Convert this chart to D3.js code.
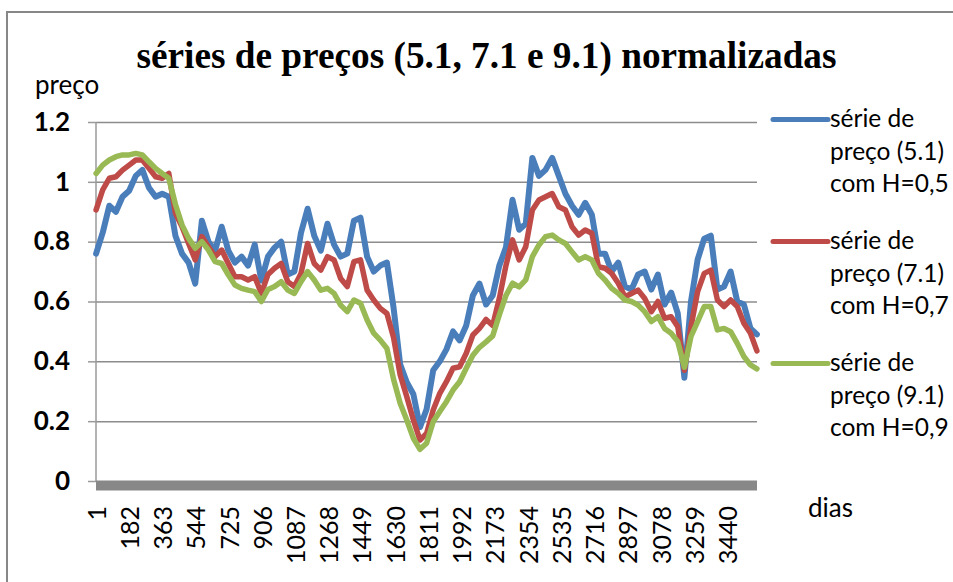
<!DOCTYPE html>
<html>
<head>
<meta charset="utf-8">
<script src="https://cdn.jsdelivr.net/npm/d3@7"></script>
<style>
  html, body { margin: 0; padding: 0; background: #fff; }
  svg { display: block; }
</style>
</head>
<body>
<svg id="chart" width="953" height="582"></svg>
<script>
// ---------- data ----------
const dias = [1,37,73,109,145,181,217,253,289,325,361,397,433,469,505,541,577,613,649,685,
  721,757,793,829,865,901,937,973,1009,1045,1081,1117,1153,1189,1225,1261,1297,1333,1369,1405,
  1441,1477,1513,1549,1585,1621,1657,1693,1729,1765,1801,1837,1873,1909,1945,1981,2017,2053,2089,2125,
  2161,2197,2233,2269,2305,2341,2377,2413,2449,2485,2521,2557,2593,2629,2665,2701,2737,2773,2809,2845,
  2881,2917,2953,2989,3025,3061,3097,3133,3169,3205,3241,3277,3313,3349,3385,3421,3457,3493,3529,3565,3600];

const serie51 = [0.76,0.83,0.92,0.90,0.95,0.97,1.02,1.04,0.98,0.95,0.96,0.95,0.82,0.76,0.73,0.66,0.87,0.80,0.77,0.85,
  0.77,0.73,0.75,0.72,0.79,0.67,0.75,0.78,0.80,0.69,0.70,0.83,0.91,0.82,0.77,0.86,0.79,0.75,0.76,0.87,
  0.88,0.75,0.70,0.72,0.73,0.58,0.39,0.33,0.29,0.18,0.24,0.37,0.40,0.44,0.50,0.47,0.52,0.62,0.66,0.59,
  0.62,0.72,0.78,0.94,0.84,0.86,1.08,1.02,1.04,1.08,1.02,0.96,0.92,0.89,0.93,0.89,0.76,0.76,0.70,0.73,
  0.65,0.64,0.69,0.70,0.64,0.69,0.59,0.63,0.56,0.345,0.60,0.74,0.81,0.82,0.64,0.65,0.70,0.60,0.59,0.51,0.49];

const serie71 = [0.906,0.973,1.012,1.017,1.039,1.056,1.073,1.073,1.045,1.017,1.012,1.028,0.895,0.85,0.794,0.739,0.817,0.783,0.75,0.772,
  0.727,0.683,0.683,0.672,0.683,0.627,0.69,0.711,0.727,0.666,0.65,0.694,0.794,0.727,0.705,0.75,0.739,0.677,0.65,0.733,
  0.739,0.638,0.605,0.577,0.56,0.48,0.355,0.282,0.204,0.137,0.159,0.237,0.293,0.332,0.377,0.382,0.427,0.488,0.51,0.54,
  0.52,0.61,0.72,0.806,0.739,0.783,0.906,0.939,0.95,0.961,0.917,0.906,0.85,0.822,0.839,0.828,0.716,0.711,0.694,0.661,
  0.616,0.627,0.638,0.61,0.566,0.6,0.544,0.549,0.516,0.37,0.516,0.633,0.694,0.705,0.605,0.583,0.605,0.583,0.527,0.494,0.435];

const serie91 = [1.028,1.056,1.073,1.084,1.09,1.09,1.095,1.09,1.067,1.045,1.028,1.012,0.925,0.856,0.811,0.778,0.80,0.772,0.733,0.727,
  0.689,0.655,0.644,0.638,0.633,0.60,0.64,0.65,0.666,0.638,0.627,0.666,0.70,0.672,0.638,0.644,0.627,0.588,0.566,0.605,
  0.594,0.538,0.494,0.471,0.443,0.34,0.26,0.204,0.143,0.106,0.126,0.198,0.232,0.265,0.304,0.332,0.377,0.42,0.447,0.465,
  0.485,0.555,0.62,0.661,0.649,0.672,0.75,0.789,0.817,0.822,0.806,0.794,0.766,0.739,0.75,0.739,0.694,0.672,0.644,0.627,
  0.605,0.60,0.588,0.566,0.533,0.549,0.51,0.494,0.466,0.38,0.483,0.533,0.583,0.583,0.505,0.51,0.499,0.46,0.416,0.388,0.375];

const seriesNomes = [
  ["série de", "preço (5.1)", "com H=0,5"],
  ["série de", "preço (7.1)", "com H=0,7"],
  ["série de", "preço (9.1)", "com H=0,9"]
];
const seriesCores = ["#4a7ebb", "#be4b48", "#98b954"];
const xTicks = [1,182,363,544,725,906,1087,1268,1449,1630,1811,1992,2173,2354,2535,2716,2897,3078,3259,3440];
const yTicks = [0, 0.2, 0.4, 0.6, 0.8, 1, 1.2];
const titulo = "séries de preços (5.1, 7.1 e 9.1) normalizadas";

// ---------- chart ----------
const svg = d3.select("#chart");
const W = 953, H = 582;
const plot = { left: 96, right: 757, top: 122, bottom: 481 };
const FONT = "Lato, 'Open Sans', sans-serif";

const x = d3.scaleLinear().domain([0.5, 3600.5]).range([plot.left, plot.right]);
const y = d3.scaleLinear().domain([0, 1.2]).range([plot.bottom, plot.top]);

// outer frame
svg.append("path")
  .attr("d", `M7,${H} V12 H${W}`)
  .attr("fill", "none").attr("stroke", "#878787").attr("stroke-width", 2);

// title
svg.append("text")
  .attr("x", 486.5).attr("y", 68)
  .attr("text-anchor", "middle")
  .attr("font-family", "'Liberation Serif', 'Times New Roman', serif")
  .attr("font-weight", "bold")
  .attr("font-size", 38)
  .attr("textLength", 700)
  .attr("lengthAdjust", "spacingAndGlyphs")
  .attr("fill", "#000")
  .text(titulo);

// y axis title
svg.append("text")
  .attr("x", 35).attr("y", 94)
  .attr("font-family", FONT).attr("font-size", 26).attr("fill", "#000")
  .text("preço");

// x axis title
svg.append("text")
  .attr("x", 808).attr("y", 517)
  .attr("font-family", FONT).attr("font-size", 26).attr("fill", "#000")
  .text("dias");

// gridlines
const grid = svg.append("g").attr("transform", `translate(${plot.left},0)`)
  .call(d3.axisLeft(y).tickValues(yTicks.filter(d => d > 0)).tickSize(-(plot.right - plot.left)).tickFormat(""));
grid.select(".domain").remove();
grid.selectAll("line").attr("stroke", "#8c8c8c").attr("stroke-width", 1.5);

// y axis
const yAxis = svg.append("g").attr("transform", `translate(${plot.left},0)`)
  .call(d3.axisLeft(y).tickValues(yTicks).tickSize(8).tickPadding(18)
    .tickFormat(d => d3.format("")(d)));
yAxis.select(".domain").attr("stroke", "#9a9a9a").attr("stroke-width", 1.5)
  .attr("d", `M0,${plot.top}V${plot.bottom}`);
yAxis.selectAll("line").attr("stroke", "#9a9a9a").attr("stroke-width", 1.5);
yAxis.selectAll("text")
  .attr("font-family", FONT).attr("font-size", 26).attr("font-weight", "bold")
  .attr("fill", "#000");

// x axis thick bar
svg.append("rect")
  .attr("x", plot.left).attr("y", plot.bottom - 0.5)
  .attr("width", plot.right - plot.left).attr("height", 10)
  .attr("fill", "#888888");

// x axis labels
const xAxis = svg.append("g").attr("transform", `translate(0,${plot.bottom})`)
  .call(d3.axisBottom(x).tickValues(xTicks).tickSize(0).tickFormat(d => d));
xAxis.select(".domain").remove();
xAxis.selectAll("text")
  .attr("font-family", FONT).attr("font-size", 25).attr("fill", "#000")
  .attr("text-anchor", "end")
  .attr("dy", "0.36em")
  .attr("y", 0)
  .attr("x", 0)
  .attr("transform", "translate(0,25) rotate(-90)");

// lines
const line = d3.line().x((d, i) => x(dias[i])).y(d => y(d)).curve(d3.curveLinear);
[serie51, serie71, serie91].forEach((s, i) => {
  svg.append("path")
    .datum(s)
    .attr("d", line)
    .attr("fill", "none")
    .attr("stroke", seriesCores[i])
    .attr("stroke-width", i === 0 ? 6 : 5.5)
    .attr("stroke-linejoin", "round")
    .attr("stroke-linecap", "round");
});

// legend
const legY = [119.5, 241.5, 363.5];
seriesNomes.forEach((nomes, i) => {
  const g = svg.append("g");
  g.append("line")
    .attr("x1", 773).attr("x2", 828)
    .attr("y1", legY[i]).attr("y2", legY[i])
    .attr("stroke", seriesCores[i]).attr("stroke-width", 5).attr("stroke-linecap", "round");
  nomes.forEach((t, j) => {
    g.append("text")
      .attr("x", 830).attr("y", legY[i] + 7.5 + j * 32.5)
      .attr("font-family", FONT).attr("font-size", 24.5).attr("fill", "#000")
      .text(t);
  });
});
</script>
</body>
</html>
